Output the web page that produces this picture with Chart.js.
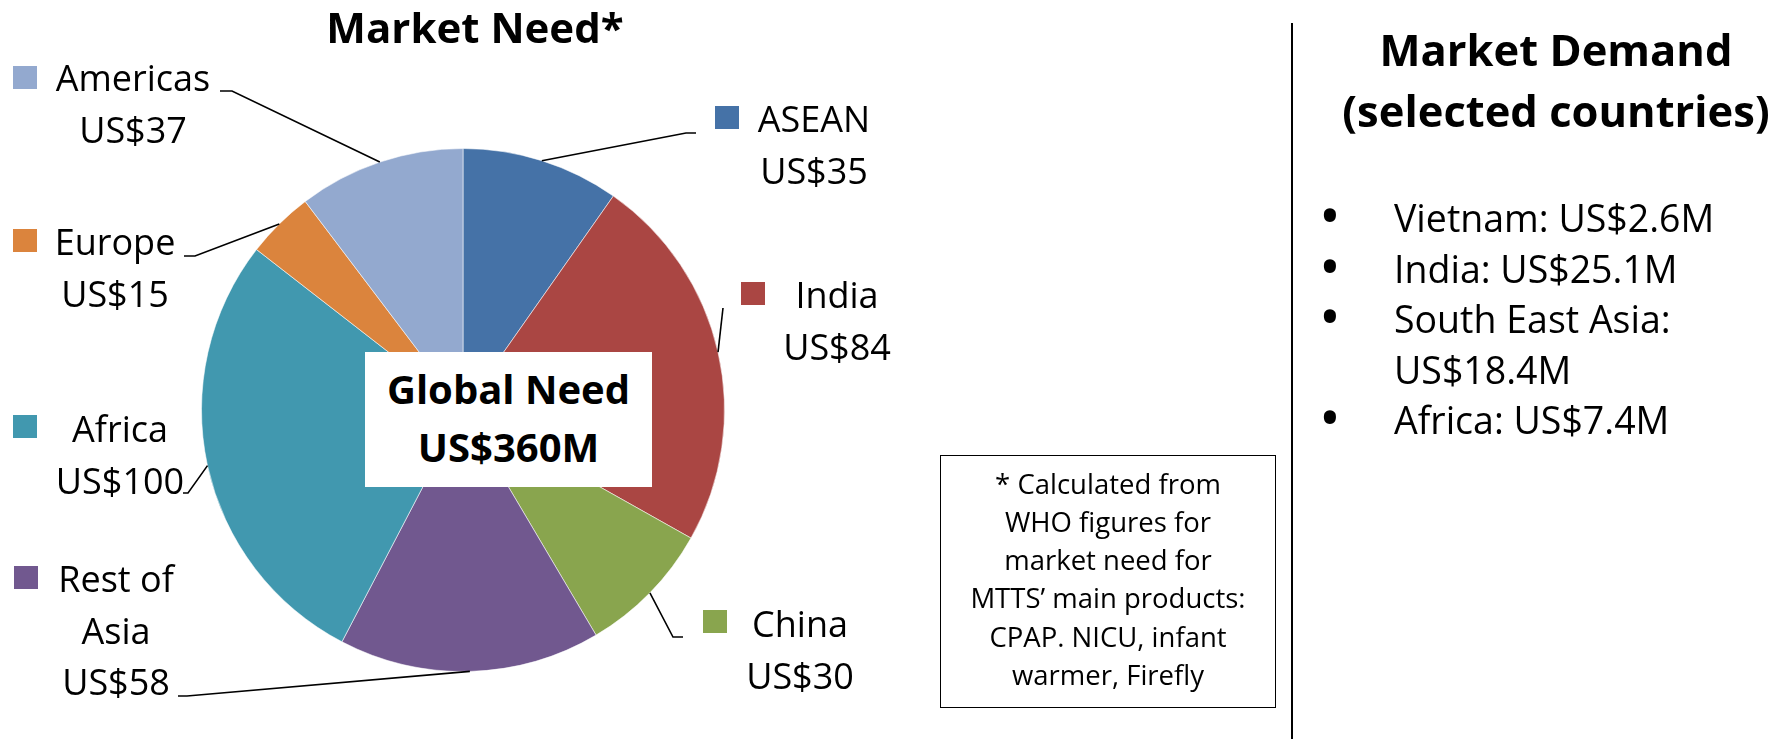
<!DOCTYPE html>
<html>
<head>
<meta charset="utf-8">
<title>Market Need</title>
<script src="https://cdn.jsdelivr.net/npm/chart.js@4.4.1/dist/chart.umd.min.js"></script>
<style>
    html, body {
        margin: 0;
        padding: 0;
        background: #fff;
    }
    body {
        position: relative;
        width: 1789px;
        height: 739px;
        overflow: hidden;
        font-family: 'Open Sans', Lato, sans-serif;
        color: #000;
    }
    #need-chart {
        position: absolute;
        left: 0;
        top: 0;
    }
    .title {
        position: absolute;
        font-weight: bold;
        text-align: center;
        white-space: nowrap;
    }
    #need-title {
        left: 0;
        top: 2px;
        width: 950px;
        font-size: 42px;
        line-height: 50px;
    }
    #global-box {
        position: absolute;
        left: 365px;
        top: 352px;
        width: 287px;
        height: 135px;
        background: #fff;
        font-weight: bold;
        font-size: 40px;
        line-height: 58px;
        text-align: center;
        padding-top: 8px;
        box-sizing: border-box;
        white-space: nowrap;
    }
    #footnote {
        position: absolute;
        left: 940px;
        top: 455px;
        width: 336px;
        height: 253px;
        border: 1.5px solid #000;
        box-sizing: border-box;
        font-size: 27.5px;
        line-height: 38.3px;
        text-align: center;
        padding-top: 8.5px;
        white-space: nowrap;
    }
    #divider {
        position: absolute;
        left: 1291px;
        top: 23px;
        width: 2px;
        height: 716px;
        background: #000;
    }
    #demand-title {
        left: 1323px;
        top: 19px;
        width: 466px;
        font-size: 43.5px;
        line-height: 61px;
    }
    #demand-list {
        position: absolute;
        left: 1394px;
        top: 193px;
        margin: 0;
        padding: 0;
        list-style: none;
        font-size: 37.5px;
        line-height: 50.5px;
    }
    #demand-list li {
        position: relative;
        width: 370px;
    }
    #demand-list li::before {
        content: '\2022';
        position: absolute;
        left: -75px;
        top: -3px;
        font-size: 58px;
    }
</style>
</head>
<body>
<canvas id="need-chart" width="1789" height="739"></canvas>
<div id="need-title" class="title">Market Need*</div>
<div id="global-box">Global Need<br>US$360M</div>
<div id="footnote"></div>
<div id="divider"></div>
<div id="demand-title" class="title">Market Demand<br>(selected countries)</div>
<ul id="demand-list"></ul>

<script>
// Market need by region (US$ millions), clockwise from the top
const regions = ['ASEAN', 'India', 'China', ['Rest of', 'Asia'], 'Africa', 'Europe', 'Americas'];
const needValues = [35, 84, 30, 58, 100, 15, 37];
const sliceColors = ['#4572A7', '#AA4643', '#89A54E', '#71588F', '#4198AF', '#DB843D', '#93A9CF'];

// Market demand, selected countries
const demandItems = ['Vietnam: US$2.6M', 'India: US$25.1M', 'South East Asia: US$18.4M', 'Africa: US$7.4M'];

const footnoteLines = [
    '* Calculated from',
    'WHO figures for',
    'market need for',
    'MTTS\u2019 main products:',
    'CPAP. NICU, infant',
    'warmer, Firefly'
];

// where each callout sits: text centre, first baseline, key square, leader elbow/end
const calloutLayout = [
    { cx: 814, y: 132, key: [715, 106], elbow: [686, 133], end: [696, 133] },
    { cx: 837, y: 308, key: [741, 282], elbow: null, end: [723, 308] },
    { cx: 800, y: 637, key: [703, 610], elbow: [673, 637], end: [683, 637] },
    { cx: 116, y: 592, key: [14, 566], elbow: [187, 696], end: [178, 696] },
    { cx: 120, y: 442, key: [13, 415], elbow: [188, 493], end: [183, 493] },
    { cx: 115, y: 255, key: [13, 229], elbow: [195, 256], end: [184, 256] },
    { cx: 133, y: 91, key: [13, 66], elbow: [232, 91], end: [220, 91] }
];
const labelFont = "36px 'Open Sans', Lato, sans-serif";
const labelGap = 51.5;
const keySize = 24;

document.getElementById('footnote').innerHTML = footnoteLines.join('<br>');
const list = document.getElementById('demand-list');
demandItems.forEach(item => {
    const li = document.createElement('li');
    li.textContent = item;
    list.appendChild(li);
});

// Callouts: leader line from the slice edge, legend key, name and value
const sliceCallouts = {
    id: 'sliceCallouts',
    afterDatasetsDraw(chart) {
        const ctx = chart.ctx;
        const meta = chart.getDatasetMeta(0);
        const values = chart.data.datasets[0].data;
        ctx.save();
        meta.data.forEach((arc, i) => {
            const pos = calloutLayout[i];
            const p = arc.getProps(['x', 'y', 'startAngle', 'endAngle', 'outerRadius'], true);
            const mid = (p.startAngle + p.endAngle) / 2;
            const sx = p.x + Math.cos(mid) * p.outerRadius;
            const sy = p.y + Math.sin(mid) * p.outerRadius;

            ctx.strokeStyle = '#000';
            ctx.lineWidth = 1.6;
            ctx.beginPath();
            ctx.moveTo(sx, sy);
            if (pos.elbow) ctx.lineTo(pos.elbow[0], pos.elbow[1]);
            ctx.lineTo(pos.end[0], pos.end[1]);
            ctx.stroke();

            ctx.fillStyle = sliceColors[i];
            ctx.fillRect(pos.key[0], pos.key[1], keySize, keySize - 1);

            const name = chart.data.labels[i];
            const lines = (Array.isArray(name) ? name : [name]).concat('US$' + values[i]);
            ctx.fillStyle = '#000';
            ctx.font = labelFont;
            ctx.textAlign = 'center';
            ctx.textBaseline = 'alphabetic';
            lines.forEach((line, j) => ctx.fillText(line, pos.cx, pos.y + j * labelGap));
        });
        ctx.restore();
    }
};

new Chart(document.getElementById('need-chart'), {
    type: 'pie',
    data: {
        labels: regions,
        datasets: [{
            data: needValues,
            backgroundColor: sliceColors,
            borderColor: 'rgba(255, 255, 255, 0.55)',
            borderWidth: 1,
            hoverOffset: 0
        }]
    },
    options: {
        responsive: false,
        animation: false,
        layout: { padding: { left: 201, top: 148, right: 1064, bottom: 67 } },
        plugins: {
            legend: { display: false },
            tooltip: { enabled: false }
        }
    },
    plugins: [sliceCallouts]
});
</script>
</body>
</html>
